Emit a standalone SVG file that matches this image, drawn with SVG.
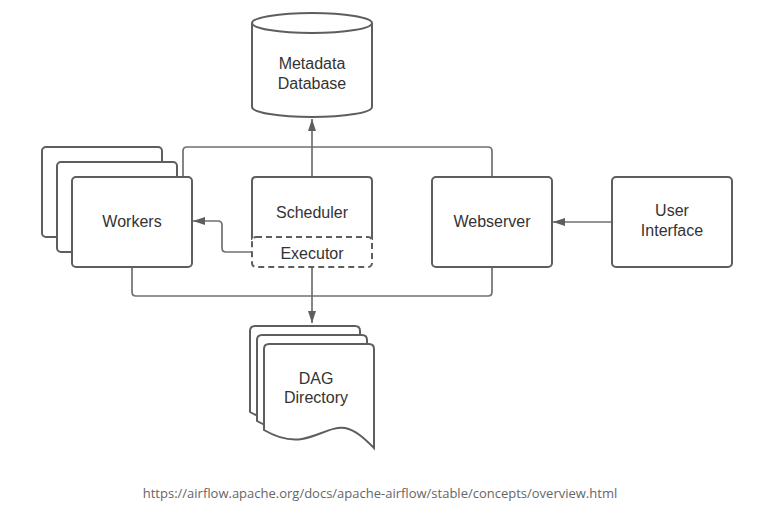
<svg xmlns="http://www.w3.org/2000/svg" width="760" height="512" viewBox="0 0 760 512">
<style>
.shape{fill:#fff;stroke:#5e5e5e;stroke-width:2}
.dash{fill:#fff;stroke:#5e5e5e;stroke-width:2;stroke-dasharray:6 4}
.conn{fill:none;stroke:#707070;stroke-width:1.7}
.lbl{font-family:"Liberation Sans",Arial,sans-serif;font-size:16px;fill:#333;text-anchor:middle}
.url{font-family:"Open Sans","Noto Sans",sans-serif;font-size:13px;fill:#666;text-anchor:middle}
</style>
<defs>
<marker id="arr" markerUnits="userSpaceOnUse" markerWidth="13" markerHeight="9" refX="12" refY="4" orient="auto">
<path d="M0,0 L12,4 L0,8 z" fill="#5e5e5e"/>
</marker>
</defs>
<rect width="760" height="512" fill="#fff"/>
<g id="connectors">
<path class="conn" d="M183,177 V151 Q183,147 187,147 H488 Q492,147 492,151 V177"/>
<path class="conn" d="M312,177 V119" marker-end="url(#arr)"/>
<path class="conn" d="M132,267 V292 Q132,296 136,296 H488 Q492,296 492,292 V267"/>
<path class="conn" d="M312,267 V323" marker-end="url(#arr)"/>
<path class="conn" d="M252,252 H226 Q222,252 222,248 V225 Q222,221 218,221 H193" marker-end="url(#arr)"/>
<path class="conn" d="M612,222 H553" marker-end="url(#arr)"/>
</g>
<g id="metadata-db">
<path class="shape" d="M252,23 A60,10 0 0 1 372,23 L372,107 A60,10 0 0 1 252,107 Z"/>
<path class="shape" fill="none" d="M252,23 A60,10 0 0 0 372,23"/>
<text class="lbl" x="312" y="69">Metadata</text>
<text class="lbl" x="312" y="89">Database</text>
</g>
<g id="workers">
<rect class="shape" x="42" y="147" width="120" height="90" rx="4"/>
<rect class="shape" x="57" y="162" width="120" height="90" rx="4"/>
<rect class="shape" x="72" y="177" width="120" height="90" rx="4"/>
<text class="lbl" x="132" y="227">Workers</text>
</g>
<g id="scheduler">
<path class="shape" d="M252,240 V181 Q252,177 256,177 H368 Q372,177 372,181 V240"/>
<text class="lbl" x="312" y="218">Scheduler</text>
</g>
<g id="executor">
<rect class="dash" x="252" y="237" width="120" height="30" rx="4"/>
<text class="lbl" x="312" y="259">Executor</text>
</g>
<g id="webserver">
<rect class="shape" x="432" y="177" width="120" height="90" rx="4"/>
<text class="lbl" x="492" y="227">Webserver</text>
</g>
<g id="user-interface">
<rect class="shape" x="612" y="177" width="120" height="90" rx="4"/>
<text class="lbl" x="672" y="216">User</text>
<text class="lbl" x="672" y="236">Interface</text>
</g>
<g id="dag-directory">
<path class="shape" transform="translate(250,326)" d="M0,86 V5 Q0,0 5,0 H105 Q110,0 110,5 V104 C102,96 92,86 81,84 C68,82 55,92 38,95 C26,97 12,93 0,86 Z"/>
<path class="shape" transform="translate(257,335)" d="M0,86 V5 Q0,0 5,0 H105 Q110,0 110,5 V104 C102,96 92,86 81,84 C68,82 55,92 38,95 C26,97 12,93 0,86 Z"/>
<path class="shape" transform="translate(264,344)" d="M0,86 V5 Q0,0 5,0 H105 Q110,0 110,5 V104 C102,96 92,86 81,84 C68,82 55,92 38,95 C26,97 12,93 0,86 Z"/>
<text class="lbl" x="316" y="384">DAG</text>
<text class="lbl" x="316" y="403">Directory</text>
</g>
<text class="url" x="380" y="498">https://airflow.apache.org/docs/apache-airflow/stable/concepts/overview.html</text>
</svg>
